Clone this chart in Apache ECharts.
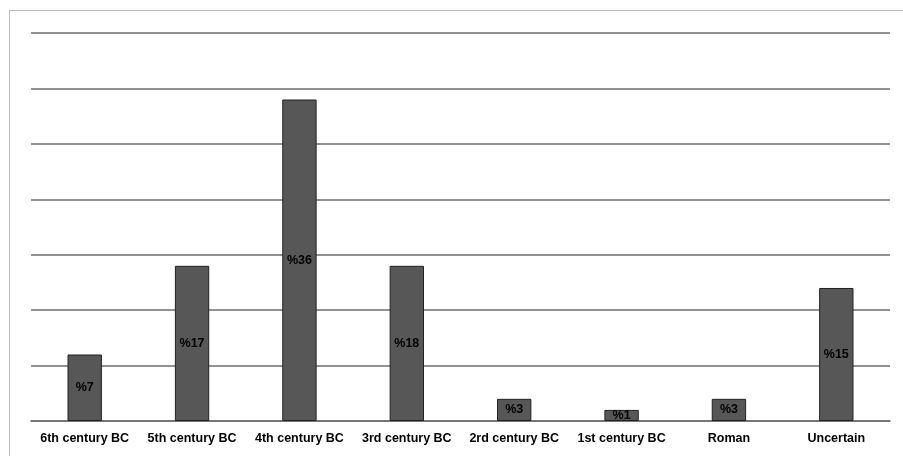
<!DOCTYPE html>
<html>
<head>
<meta charset="utf-8">
<script src="https://cdn.jsdelivr.net/npm/echarts@6/dist/echarts.min.js"></script>
<style>
html,body{margin:0;padding:0;background:#fff;}
#wrap{position:relative;width:903px;height:456px;overflow:hidden;}
#frame{position:absolute;left:9px;top:10px;width:1000px;height:1000px;border:1px solid #bdbdbd;box-sizing:border-box;}
#chart{position:absolute;left:0;top:0;width:903px;height:456px;}
</style>
</head>
<body>
<div id="wrap">
<div id="frame"></div>
<div id="chart"></div>
</div>
<script>
const categories = ['6th century BC','5th century BC','4th century BC','3rd century BC','2rd century BC','1st century BC','Roman','Uncertain'];
const counts = [12, 28, 58, 28, 4, 2, 4, 24];
const percentLabels = ['%7','%17','%36','%18','%3','%1','%3','%15'];

const chart = echarts.init(document.getElementById('chart'), null, {renderer:'canvas'});
chart.setOption({
  animation:false,
  backgroundColor:'transparent',
  grid:{left:31,right:13,top:33,bottom:35,containLabel:false},
  xAxis:{
    type:'category',
    data:categories,
    axisLine:{show:true,lineStyle:{color:'#6e6e6e',width:1.5}},
    axisTick:{show:false},
    axisLabel:{color:'#000',fontFamily:'Liberation Sans, Arial, sans-serif',fontWeight:'bold',fontSize:12.5,margin:11,interval:0}
  },
  yAxis:{
    type:'value',min:0,max:70,interval:10,
    axisLine:{show:false},axisTick:{show:false},axisLabel:{show:false},
    splitLine:{show:true,lineStyle:{color:'#6e6e6e',width:1.5}}
  },
  series:[{
    type:'bar',
    data:counts,
    barWidth:'32%',
    itemStyle:{color:'#575757',borderColor:'#222',borderWidth:1},
    label:{
      show:true,position:'inside',
      formatter:p=>percentLabels[p.dataIndex],
      color:'#000',fontFamily:'Liberation Sans, Arial, sans-serif',fontWeight:'bold',fontSize:12.5
    }
  }]
});
</script>
</body>
</html>
